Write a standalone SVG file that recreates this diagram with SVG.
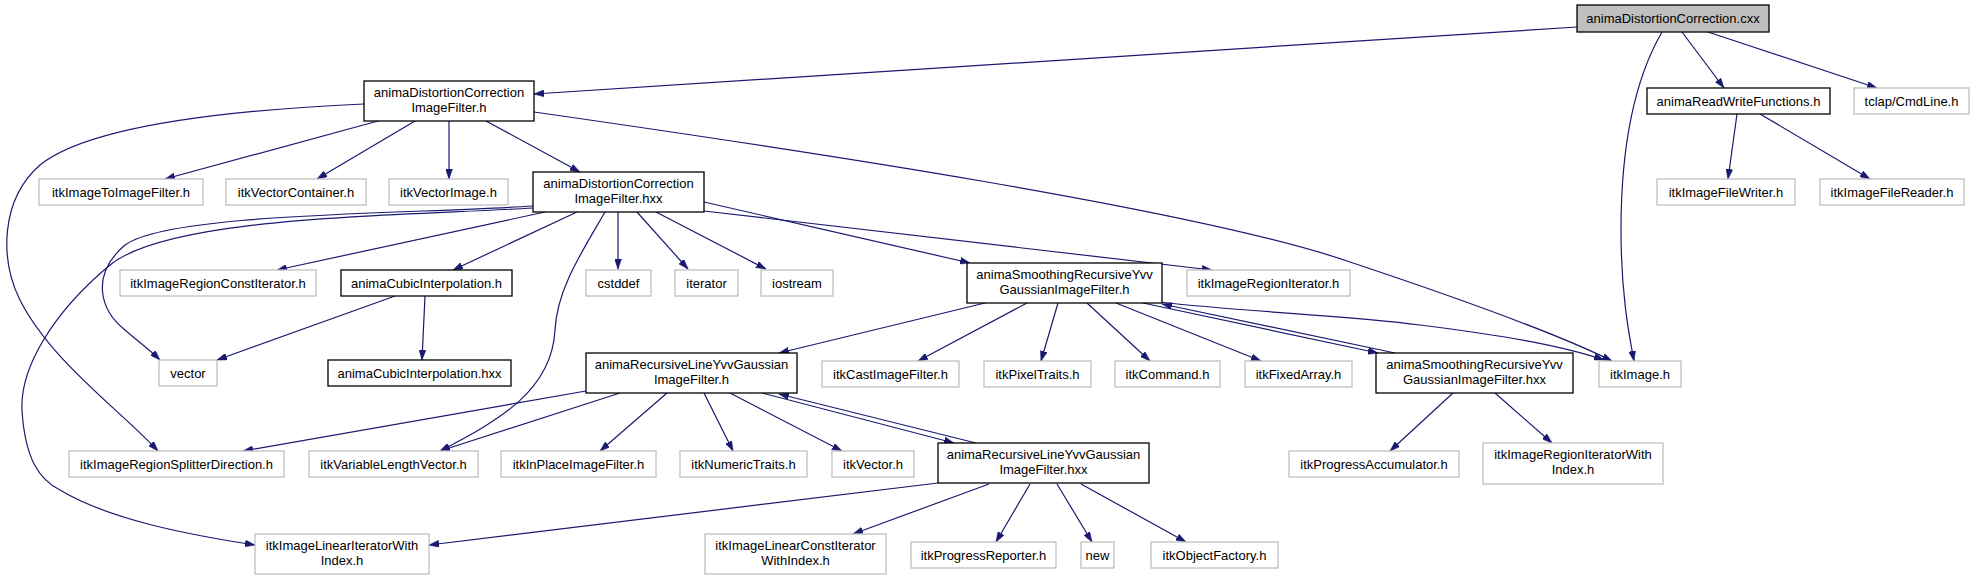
<svg xmlns="http://www.w3.org/2000/svg" width="1975" height="581" viewBox="0 0 1975 581">
<style>
rect{stroke-width:1.3}
.ext rect{fill:#ffffff;stroke:#bfbfbf}
.int rect{fill:#ffffff;stroke:#000000}
.root rect{fill:#bfbfbf;stroke:#000000}
text{font-family:"Liberation Sans",Arial,sans-serif;font-size:13px;fill:#000000;text-anchor:middle}
#edges path{fill:none;stroke:#191970;stroke-width:1.2;marker-end:url(#arr)}
</style>
<defs>
<marker id="arr" viewBox="0 0 10 7" markerWidth="10" markerHeight="7" markerUnits="userSpaceOnUse" refX="10" refY="3.5" orient="auto">
<path d="M0,0 L10,3.5 L0,7 z" fill="#191970" stroke="#191970" stroke-width="0.5"/>
</marker>
</defs>
<rect width="1975" height="581" fill="#ffffff"/>
<g id="edges">
<path d="M1577,27 L534,94"/>
<path d="M1662,32 C1640,70 1621,130 1621,230 C1621,290 1628,330 1634,361"/>
<path d="M1682,32 L1724,88"/>
<path d="M1708,32 L1877,88"/>
<path d="M1737,114 L1728,179"/>
<path d="M1760,114 L1870,179"/>
<path d="M378,121 L165,179"/>
<path d="M415,121 L317,179"/>
<path d="M449,121 L449,179"/>
<path d="M486,121 L580,172"/>
<path d="M534,112 C800,150 1200,210 1350,262 C1470,302 1560,335 1612,361"/>
<path d="M364,104 C230,110 90,125 40,165 C0,200 0,260 20,300 C50,360 120,410 158,451"/>
<path d="M545,212 L277,270"/>
<path d="M577,212 L453,270"/>
<path d="M618,212 L618,269"/>
<path d="M637,212 L688,269"/>
<path d="M656,212 L766,269"/>
<path d="M704,202 L970,263"/>
<path d="M704,211 L1212,270"/>
<path d="M605,212 C580,255 557,290 555,330 C552,390 500,420 440,451"/>
<path d="M533,206 C420,214 170,212 125,245 C90,275 100,310 125,330 C140,343 150,350 160,360"/>
<path d="M533,208 C400,216 170,216 110,265 C50,315 20,370 22,410 C25,460 40,480 60,490 C110,520 190,535 255,545"/>
<path d="M395,296 L217,360"/>
<path d="M425,296 L422,360"/>
<path d="M985,303 L779,353"/>
<path d="M1027,303 L918,361"/>
<path d="M1058,303 L1041,361"/>
<path d="M1087,303 L1150,361"/>
<path d="M1116,303 L1261,361"/>
<path d="M1143,303 L1378,353"/>
<path d="M1395,353 L1162,304"/>
<path d="M1158,302 C1250,312 1350,316 1420,325 C1500,335 1560,345 1604,360"/>
<path d="M1453,393 L1390,451"/>
<path d="M1495,393 L1552,443"/>
<path d="M586,391 L243,451"/>
<path d="M620,393 L440,451"/>
<path d="M667,393 L600,451"/>
<path d="M704,393 L733,451"/>
<path d="M730,393 L842,451"/>
<path d="M762,393 L954,443"/>
<path d="M976,443 L779,394"/>
<path d="M938,483 L429,545"/>
<path d="M989,484 L853,534"/>
<path d="M1030,484 L996,542"/>
<path d="M1057,484 L1092,542"/>
<path d="M1081,484 L1186,542"/>
</g>
<g id="n_cxx" class="root"><rect x="1577" y="5" width="192" height="27"/><text x="1673" y="23">animaDistortionCorrection.cxx</text></g>
<g id="n_adcif_h" class="int"><rect x="364" y="81" width="170" height="40"/><text x="449" y="97">animaDistortionCorrection</text><text x="449" y="112">ImageFilter.h</text></g>
<g id="n_rw" class="int"><rect x="1647" y="88" width="183" height="26"/><text x="1738.5" y="106">animaReadWriteFunctions.h</text></g>
<g id="n_tclap" class="ext"><rect x="1854" y="88" width="115" height="26"/><text x="1911.5" y="106">tclap/CmdLine.h</text></g>
<g id="n_i2i" class="ext"><rect x="39" y="179" width="164" height="26"/><text x="121" y="197">itkImageToImageFilter.h</text></g>
<g id="n_vc" class="ext"><rect x="226" y="179" width="140" height="26"/><text x="296" y="197">itkVectorContainer.h</text></g>
<g id="n_vi" class="ext"><rect x="389" y="179" width="119" height="26"/><text x="448.5" y="197">itkVectorImage.h</text></g>
<g id="n_adcif_hxx" class="int"><rect x="533" y="172" width="171" height="40"/><text x="618.5" y="188">animaDistortionCorrection</text><text x="618.5" y="203">ImageFilter.hxx</text></g>
<g id="n_fw" class="ext"><rect x="1657" y="179" width="138" height="26"/><text x="1726" y="197">itkImageFileWriter.h</text></g>
<g id="n_fr" class="ext"><rect x="1820" y="179" width="144" height="26"/><text x="1892" y="197">itkImageFileReader.h</text></g>
<g id="n_rci" class="ext"><rect x="120" y="270" width="196" height="26"/><text x="218" y="288">itkImageRegionConstIterator.h</text></g>
<g id="n_cih" class="int"><rect x="341" y="270" width="171" height="26"/><text x="426.5" y="288">animaCubicInterpolation.h</text></g>
<g id="n_cstddef" class="ext"><rect x="586" y="270" width="65" height="26"/><text x="618.5" y="288">cstddef</text></g>
<g id="n_iterator" class="ext"><rect x="675" y="270" width="63" height="26"/><text x="706.5" y="288">iterator</text></g>
<g id="n_iostream" class="ext"><rect x="761" y="270" width="72" height="26"/><text x="797" y="288">iostream</text></g>
<g id="n_smooth_h" class="int"><rect x="967" y="263" width="195" height="40"/><text x="1064.5" y="279">animaSmoothingRecursiveYvv</text><text x="1064.5" y="294">GaussianImageFilter.h</text></g>
<g id="n_rii" class="ext"><rect x="1187" y="270" width="163" height="26"/><text x="1268.5" y="288">itkImageRegionIterator.h</text></g>
<g id="n_vector" class="ext"><rect x="159" y="360" width="58" height="26"/><text x="188" y="378">vector</text></g>
<g id="n_cihxx" class="int"><rect x="328" y="360" width="183" height="26"/><text x="419.5" y="378">animaCubicInterpolation.hxx</text></g>
<g id="n_recline_h" class="int"><rect x="586" y="353" width="211" height="40"/><text x="691.5" y="369">animaRecursiveLineYvvGaussian</text><text x="691.5" y="384">ImageFilter.h</text></g>
<g id="n_cast" class="ext"><rect x="822" y="361" width="137" height="26"/><text x="890.5" y="379">itkCastImageFilter.h</text></g>
<g id="n_pixel" class="ext"><rect x="984" y="361" width="107" height="26"/><text x="1037.5" y="379">itkPixelTraits.h</text></g>
<g id="n_command" class="ext"><rect x="1115" y="361" width="105" height="26"/><text x="1167.5" y="379">itkCommand.h</text></g>
<g id="n_fixed" class="ext"><rect x="1245" y="361" width="107" height="26"/><text x="1298.5" y="379">itkFixedArray.h</text></g>
<g id="n_smooth_hxx" class="int"><rect x="1376" y="353" width="197" height="40"/><text x="1474.5" y="369">animaSmoothingRecursiveYvv</text><text x="1474.5" y="384">GaussianImageFilter.hxx</text></g>
<g id="n_image" class="ext"><rect x="1599" y="361" width="82" height="26"/><text x="1640" y="379">itkImage.h</text></g>
<g id="n_splitter" class="ext"><rect x="69" y="451" width="215" height="26"/><text x="176.5" y="469">itkImageRegionSplitterDirection.h</text></g>
<g id="n_vlv" class="ext"><rect x="309" y="451" width="169" height="26"/><text x="393.5" y="469">itkVariableLengthVector.h</text></g>
<g id="n_inplace" class="ext"><rect x="501" y="451" width="155" height="26"/><text x="578.5" y="469">itkInPlaceImageFilter.h</text></g>
<g id="n_numeric" class="ext"><rect x="680" y="451" width="127" height="26"/><text x="743.5" y="469">itkNumericTraits.h</text></g>
<g id="n_itkvector" class="ext"><rect x="832" y="451" width="82" height="26"/><text x="873" y="469">itkVector.h</text></g>
<g id="n_recline_hxx" class="int"><rect x="938" y="443" width="211" height="40"/><text x="1043.5" y="459">animaRecursiveLineYvvGaussian</text><text x="1043.5" y="474">ImageFilter.hxx</text></g>
<g id="n_progacc" class="ext"><rect x="1289" y="451" width="170" height="26"/><text x="1374" y="469">itkProgressAccumulator.h</text></g>
<g id="n_riiwi" class="ext"><rect x="1483" y="443" width="180" height="41"/><text x="1573" y="459">itkImageRegionIteratorWith</text><text x="1573" y="474">Index.h</text></g>
<g id="n_linear" class="ext"><rect x="255" y="534" width="174" height="40"/><text x="342" y="550">itkImageLinearIteratorWith</text><text x="342" y="565">Index.h</text></g>
<g id="n_linconst" class="ext"><rect x="705" y="534" width="181" height="40"/><text x="795.5" y="550">itkImageLinearConstIterator</text><text x="795.5" y="565">WithIndex.h</text></g>
<g id="n_progrep" class="ext"><rect x="911" y="542" width="145" height="26"/><text x="983.5" y="560">itkProgressReporter.h</text></g>
<g id="n_new" class="ext"><rect x="1081" y="542" width="33" height="26"/><text x="1097.5" y="560">new</text></g>
<g id="n_objfac" class="ext"><rect x="1151" y="542" width="127" height="26"/><text x="1214.5" y="560">itkObjectFactory.h</text></g>
</svg>
